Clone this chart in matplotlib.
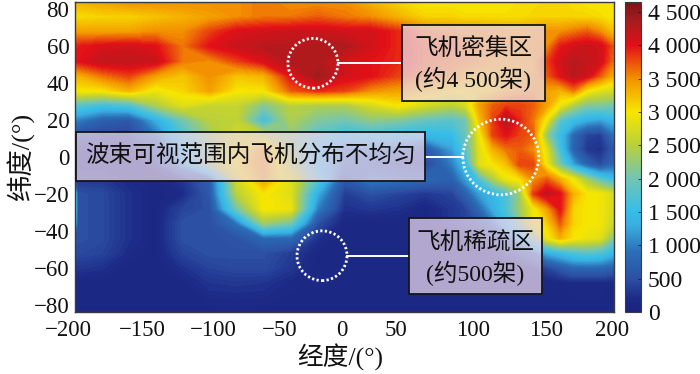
import numpy as np
import matplotlib
matplotlib.use("Agg")
import matplotlib.pyplot as plt
from matplotlib.colors import LinearSegmentedColormap, Normalize
from matplotlib.cm import ScalarMappable
from matplotlib.patches import Rectangle, Ellipse
from matplotlib.transforms import ScaledTranslation

plt.rcParams['font.family'] = ['Liberation Serif', 'Noto Sans CJK SC', 'DejaVu Sans']

lons = [-198, -180, -160, -140, -120, -100, -80, -60, -40, -20, 0, 20, 40, 60,
        80, 90, 100, 110, 120, 130, 140, 150, 160, 170, 180, 190, 200]
lats = [84, 76, 68, 60, 52, 44, 36, 28, 20, 12, 4, -4, -12, -20, -28, -36, -44, -52, -60, -68, -84]

r84 = [3300,3400,3500,3500,3500,3500,3500,3600,3500,3500,3500,3300,3100,3000,
       3000,3000,3000,3000,3000,3050,3050,3100,3100,3050,3000,3000,3000]
r76 = [3050,3100,3100,3200,3300,3400,3500,3600,3600,3700,3600,3500,3300,3100,
       3100,3050,3050,3050,3050,3050,3100,3100,3100,3100,3100,3050,3000]
r68 = [3400,3400,3400,3500,3500,3800,4050,4100,4150,4150,4100,4100,3900,3600,
       3500,3500,3500,3450,3400,3400,3450,3500,3500,3600,3700,3500,3200]
r60 = [3950,4050,4100,4000,3600,4000,4150,4250,4250,4300,4300,4100,3900,3700,
       3700,3600,3550,3500,3450,3450,3500,3500,3950,4100,4150,4100,3700]
r52 = [4000,4200,4200,4150,3600,3500,3800,4050,4300,4300,4100,4000,3900,3700,
       3600,3550,3500,3400,3350,3350,3400,3800,4100,4250,4200,4100,3600]
r44 = [3300,3600,3800,3400,3200,3500,3200,3300,4000,4400,4100,4000,3800,3600,
       3500,3300,3200,3200,3300,3300,3400,3700,4000,4250,4100,3700,3300]
r36 = [3000,3000,3300,2900,3100,3400,3000,3000,3700,3900,3800,3500,3400,3200,
       3000,3000,3050,3100,3300,3400,3500,3400,3300,3600,3000,2800,2700]
r28 = [1800,1600,1700,2400,2800,2600,2600,2100,2500,2400,2400,2700,3000,2700,
       2500,2700,3400,3700,3800,3800,3700,3400,2900,2400,2100,2100,2000]
r20 = [1000,700,600,1300,2000,2500,2550,1600,2400,2100,2000,2200,2100,1900,
       1800,2000,3200,3800,4300,3900,3600,2900,1800,1500,1300,1200,1400]
r12 = [500,400,400,900,1700,2300,2700,2500,2200,1800,1500,1600,1500,1400,
       1500,1900,2900,3800,4000,3800,3700,2200,1500,800,400,350,900]
r4  = [250,200,200,500,1500,2200,2900,3400,2300,1500,1000,1000,900,600,
       1200,1800,2800,3300,3600,3700,3500,2800,1600,700,300,250,600]
rm4 = [200,200,150,300,1200,2300,3000,3500,2500,1500,900,800,500,400,
       1000,1500,2800,3000,3200,3800,3800,2900,2000,1200,700,450,800]
rm12 = [300,300,200,130,300,700,2700,3400,2800,1800,600,1000,900,800,
        700,1200,1700,2400,2900,3000,3500,3700,3300,2900,2300,1800,1500]
rm20 = [500,450,250,130,200,600,2500,3000,2800,1300,350,500,400,300,
        400,700,1200,1400,1700,2300,3800,4200,4000,3300,3000,2950,2700]
rm28 = [500,450,250,130,400,500,2000,3000,2900,1000,250,300,250,130,
        300,400,800,1300,1700,2300,2900,3400,4000,3100,3000,2950,2700]
rm36 = [500,450,250,130,500,500,900,2300,2000,500,130,130,130,130,
        300,400,500,900,1500,2100,2900,3100,3700,3100,3000,2950,2600]
rm44 = [500,450,250,130,500,500,550,800,800,250,130,130,130,130,
        150,150,200,400,800,1400,2100,2900,3300,3000,2900,2800,2100]
rm52 = [450,400,200,130,400,500,500,500,350,130,130,130,130,130,
        130,130,130,130,300,500,800,1300,1500,1700,1800,1700,1400]
rm60 = [300,250,130,130,250,400,450,450,300,130,130,130,130,130,
        130,130,130,130,130,130,200,400,600,800,800,800,700]
rm68 = [130,130,130,130,150,280,300,280,180,130,130,130,130,130,
        130,130,130,130,130,130,130,130,150,200,200,200,150]
rm84 = [120,120,120,120,120,120,120,120,120,120,120,120,120,120,
        120,120,120,120,120,120,120,120,120,120,120,120,120]

# narrow bright sliver along the left map edge (lon = -200)
edge_lon = -200
edge_col = [3300,3050,3400,3950,4000,3300,3000,1800,1000,500,250,200,300,1800,2000,1500,500,450,300,130,120]

cbar_ticks = [0, 500, 1000, 1500, 2000, 2500, 3000, 3500, 4000, 4500]
cbar_labels = ['0', '500', '1 000', '1 500', '2 000', '2 500', '3 000', '3 500', '4 000', '4 500']
xticks = [-200, -150, -100, -50, 0, 50, 100, 150, 200]
yticks = [-80, -60, -40, -20, 0, 20, 40, 60, 80]

colors = ['#1a2380', '#1c2a86', '#2c50a4', '#2b6fb8', '#3aaee0', '#35bdea', '#72c5b4',
          '#b9d03c', '#f7e600', '#f39200', '#e30f18', '#a81c1e', '#7d1416']
anchors = [0, 200, 500, 900, 1300, 1500, 2000, 2500, 3000, 3500, 4000, 4350, 4650]
vmax = 4650
cmap = LinearSegmentedColormap.from_list('atc', [(a / vmax, c) for a, c in zip(anchors, colors)], N=512)
norm = Normalize(0, vmax)

Z = np.array([r84, r76, r68, r60, r52, r44, r36, r28, r20, r12, r4, rm4, rm12, rm20, rm28, rm36, rm44, rm52, rm60, rm68, rm84], float)
Z = np.column_stack([edge_col, Z])
X = [edge_lon] + lons

W, H = 700, 374
fig = plt.figure(figsize=(7, 3.74), dpi=100)
ax = fig.add_axes([75 / W, 1 - 312 / H, 539 / W, 310 / H])
cs = ax.contourf(X, lats, Z, levels=np.arange(0, 4701, 40), cmap=cmap, norm=norm)
cs.set_edgecolor('face')
cs.set_linewidth(0.2)
ax.set_xlim(-200, 200)
ax.set_ylim(-84, 84)

FS = 16.5
ax.set_xticks(xticks)
ax.set_yticks(yticks)
ax.tick_params(length=0, labelsize=FS, pad=4, colors='#111111')
ax.tick_params(axis='x', pad=6)
ax.set_xlabel('经度/(°)', fontsize=18.5, labelpad=2, color='#111111', x=(340 - 75) / 539)
ax.set_ylabel('纬度/(°)', fontsize=19, labelpad=-1, color='#111111')
for s in ax.spines.values():
    s.set_color('#3a3a44')
    s.set_linewidth(1.0)

# the x labels sit slightly off their tick positions in the original
label_shift_px = [-7, 0, 4, 3, -3, -16, -6, -1, -2]
for lab, dx in zip(ax.get_xticklabels(), label_shift_px):
    lab.set_transform(lab.get_transform() + ScaledTranslation(dx / 100, 0, fig.dpi_scale_trans))

cax = fig.add_axes([625 / W, 1 - 312 / H, 16 / W, 310 / H])
cb = fig.colorbar(ScalarMappable(norm=norm, cmap=cmap), cax=cax)
cb.set_ticks(cbar_ticks)
cb.set_ticklabels(cbar_labels)
cax.tick_params(length=2, direction='in', labelsize=17, pad=5, colors='#111111', width=0.5)
cb.outline.set_edgecolor('#3a3a44')

def box(l, r, b, t):
    ax.add_patch(Rectangle((l, b), r - l, t - b, facecolor=(0.93, 0.86, 0.93, 0.72), zorder=3))
    ax.add_patch(Rectangle((l, b), r - l, t - b, fill=False, edgecolor='#15151c', linewidth=1.3, zorder=4))

box(42.7, 148.8, 30.3, 71.4)
box(-199.3, 59.5, -13, 13.5)
box(48, 146.7, -74, -33)

for cx, cy, w, h in [(-23.4, 50.8, 37.1, 27), (116, 0, 56.4, 41), (-16.7, -53.5, 37.1, 27)]:
    ax.add_patch(Ellipse((cx, cy), w, h, fill=False, edgecolor='white', linewidth=2.0,
                         linestyle=(0, (0.8, 0.85)), zorder=5))

for x0, x1, y in [(-4.8, 42.7, 50.8), (59.5, 87.8, 0), (1.9, 48, -53.5)]:
    ax.plot([x0, x1], [y, y], color='white', lw=1.4, zorder=2.5)

TS = 17
ax.text(95.7, 58.6, '飞机密集区', fontsize=TS, ha='center', va='center', color='#111111', zorder=6)
ax.text(95.7, 42, '(约4 500架)', fontsize=TS, ha='center', va='center', color='#111111', zorder=6)
ax.text(-70, 0, '波束可视范围内飞机分布不均匀', fontsize=TS, ha='center', va='center', color='#111111', zorder=6)
ax.text(97, -47, '飞机稀疏区', fontsize=TS, ha='center', va='center', color='#111111', zorder=6)
ax.text(97, -63, '(约500架)', fontsize=TS, ha='center', va='center', color='#111111', zorder=6)

fig.savefig('out.png', dpi=100)
